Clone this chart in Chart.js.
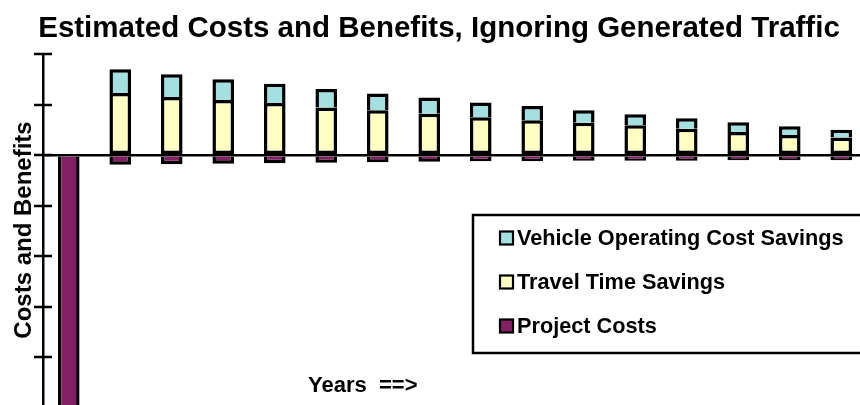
<!DOCTYPE html>
<html>
<head>
<meta charset="utf-8">
<script src="https://cdn.jsdelivr.net/npm/chart.js@4.4.1/dist/chart.umd.min.js"></script>
<style>
  html, body { margin:0; padding:0; overflow:hidden; background:#fff; }
  #wrap { position:absolute; left:0; top:0; width:867px; height:408px; }
</style>
</head>
<body>
<div id="wrap"><canvas id="cb-chart"></canvas></div>
<script>
// ------------------------------------------------------
// data (one unit = one y tick)
// ------------------------------------------------------
const years = ['0','1','2','3','4','5','6','7','8','9','10','11','12','13','14','15'];
const projectCosts  = [-6, -0.19, -0.18, -0.17, -0.16, -0.15, -0.14, -0.13, -0.12, -0.12, -0.11, -0.11, -0.11, -0.10, -0.10, -0.10];
const travelTime    = [0, 1.23, 1.15, 1.09, 1.03, 0.94, 0.89, 0.82, 0.75, 0.69, 0.64, 0.59, 0.52, 0.46, 0.40, 0.35];
const vehicleOpCost = [0, 0.47, 0.45, 0.41, 0.38, 0.37, 0.33, 0.32, 0.29, 0.28, 0.25, 0.22, 0.21, 0.19, 0.17, 0.15];
const yMin = -5, yMax = 2, yStep = 1;

const chartTitle = 'Estimated Costs and Benefits, Ignoring Generated Traffic';
const yTitle = 'Costs and Benefits';
const xTitle = 'Years  ==>';

const FONT = '"Liberation Sans", Arial, sans-serif';

// ------------------------------------------------------
// extra drawing: titles, crossing ticks, boxed legend
// ------------------------------------------------------
const decorPlugin = {
  id: 'decor',
  afterDraw(chart){
    const ctx = chart.ctx;
    const y = chart.scales.y;
    const left = chart.chartArea.left;

    ctx.save();
    ctx.strokeStyle = '#000';
    ctx.fillStyle = '#000';

    // tick marks cross the axis
    ctx.lineWidth = 2.5;
    y.ticks.forEach(t => {
      const py = Math.round(y.getPixelForValue(t.value));
      ctx.beginPath();
      ctx.moveTo(left - 9, py);
      ctx.lineTo(left + 9, py);
      ctx.stroke();
    });

    // main title
    ctx.font = 'bold 29.5px ' + FONT;
    ctx.textAlign = 'center';
    ctx.textBaseline = 'alphabetic';
    ctx.fillText(chartTitle, 439, 37);

    // y title
    ctx.save();
    ctx.translate(31, 230);
    ctx.rotate(-Math.PI / 2);
    ctx.font = 'bold 24px ' + FONT;
    ctx.fillText(yTitle, 0, 0);
    ctx.restore();

    // x title sits inside the plot
    ctx.font = 'bold 22px ' + FONT;
    ctx.textAlign = 'left';
    ctx.fillText(xTitle, 308, 392);

    // legend box
    ctx.fillStyle = '#fff';
    ctx.lineWidth = 2.5;
    ctx.fillRect(473, 215, 420, 138);
    ctx.strokeRect(473, 215, 420, 138);

    const items = chart.data.datasets.slice().reverse();
    ctx.font = 'bold 21.7px ' + FONT;
    items.forEach((ds, i) => {
      const rowY = 238 + i * 44;
      ctx.fillStyle = ds.backgroundColor;
      ctx.fillRect(500, rowY - 6.5, 13, 13);
      ctx.lineWidth = 2.2;
      ctx.strokeRect(500, rowY - 6.5, 13, 13);
      ctx.fillStyle = '#000';
      ctx.textBaseline = 'middle';
      ctx.fillText(ds.label, 517, rowY + 1);
    });

    ctx.restore();
  }
};

// ------------------------------------------------------
// chart
// ------------------------------------------------------
const ctx = document.getElementById('cb-chart').getContext('2d');
new Chart(ctx, {
  type: 'bar',
  data: {
    labels: years,
    datasets: [
      { label: 'Project Costs', data: projectCosts, backgroundColor: '#832063',
        borderColor: '#000', borderWidth: 3.5, borderSkipped: 'start' },
      { label: 'Travel Time Savings', data: travelTime, backgroundColor: '#ffffc4',
        borderColor: '#000', borderWidth: 3.5, borderSkipped: false },
      { label: 'Vehicle Operating Cost Savings', data: vehicleOpCost, backgroundColor: '#a4e0e0',
        borderColor: '#000', borderWidth: 3.5, borderSkipped: 'bottom' }
    ]
  },
  options: {
    responsive: true,
    maintainAspectRatio: false,
    animation: false,
    devicePixelRatio: 1,
    layout: { padding: { left: 43, top: 54, right: 0, bottom: 0 } },
    datasets: { bar: { categoryPercentage: 1, barPercentage: 0.42 } },
    plugins: {
      legend: { display: false },
      title: { display: false },
      tooltip: { enabled: false }
    },
    scales: {
      x: { stacked: true, display: false },
      y: {
        stacked: true,
        min: yMin,
        max: yMax,
        ticks: { stepSize: yStep, display: false },
        grid: {
          drawTicks: false,
          lineWidth: 2.5,
          color: c => (c.tick && c.tick.value === 0) ? '#000' : 'rgba(0,0,0,0)'
        },
        border: { display: true, color: '#000', width: 2.5 },
        afterFit: s => { s.width = 0; }
      }
    }
  },
  plugins: [decorPlugin]
});
</script>
</body>
</html>
